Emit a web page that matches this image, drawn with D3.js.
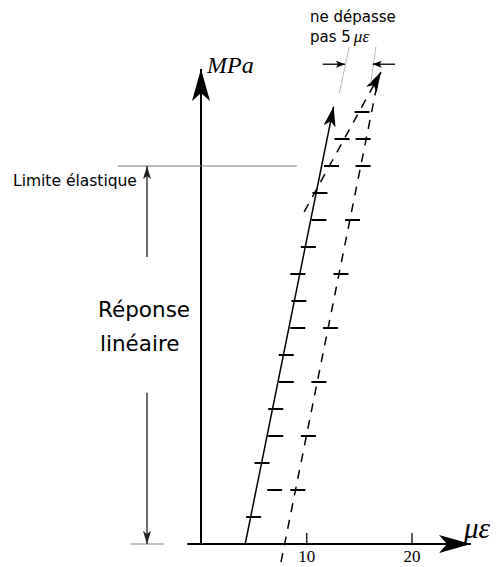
<!DOCTYPE html>
<html>
<head>
<meta charset="utf-8">
<script src="https://cdn.jsdelivr.net/npm/d3@7"></script>
<style>
  body { margin: 0; background: #fff; }
  svg { display: block; }
</style>
</head>
<body>
<script>
// valeurs : deformation (µε) par palier de charge
var paliersA = [1, 2, 3, 4, 5, 6, 7, 8, 9, 10, 11, 12, 13, 14, 15, 16];
var serieA = [5.0, 7.0, 5.8, 7.1, 7.1, 8.1, 8.1, 9.2, 9.3, 9.2, 10.2, 11.2, 11.3, 12.4, 13.4, 15.3];
var paliersB = [2, 4, 6, 8, 10, 12, 14, 15];
var serieB = [9.2, 10.2, 11.2, 12.3, 13.3, 14.4, 15.4, 15.4];

// droites de tendance [µε, palier]
var droiteA = [[4.2, 0], [12.6, 16.2]];
var droiteB = [[7.6, -0.67], [16.7, 16.95]];
var droiteC = [[9.8, 12.3], [17.1, 17.48]];

var xTicks = [10, 20];
var limiteElastique = 14;

// cote "ne depasse pas 5 µε"
var rappels = [[[14.09, 18.42], [13.14, 16.69]], [[16.63, 18.42], [16.12, 17.06]]];
var cotes = [[[11.56, 17.77], [13.68, 17.77]], [[18.43, 17.77], [16.31, 17.77]]];

var width = 496, height = 567;

var x = d3.scaleLinear().domain([0, 20]).range([201, 411.5]);
var y = d3.scaleLinear().domain([0, 16]).range([544, 112]);

var svg = d3.select("body").append("svg")
  .attr("width", width)
  .attr("height", height);

var defs = svg.append("defs");
function fleche(id, len, wid, notch, color) {
  defs.append("marker")
    .attr("id", id)
    .attr("markerUnits", "userSpaceOnUse")
    .attr("viewBox", [-len, -wid / 2, len, wid].join(" "))
    .attr("markerWidth", len)
    .attr("markerHeight", wid)
    .attr("refX", 0).attr("refY", 0)
    .attr("orient", "auto")
    .append("path")
    .attr("d", "M0,0L" + (-len) + "," + (-wid / 2) + "L" + (-len + notch) + ",0L" + (-len) + "," + (wid / 2) + "Z")
    .attr("fill", color);
}
fleche("grande", 32, 18, 8, "#000");
fleche("moyenne", 20, 12, 5, "#000");
fleche("petite", 13, 8, 3, "#222");
fleche("mini", 9, 7, 2, "#000");

var line = d3.line()
  .x(function (d) { return x(d[0]); })
  .y(function (d) { return y(d[1]); });

// axes
svg.append("path")
  .datum([[-1.3, 0], [25.65, 0]])
  .attr("d", line)
  .attr("stroke", "#000").attr("stroke-width", 2).attr("fill", "none")
  .attr("marker-end", "url(#grande)");

svg.append("path")
  .datum([[0, 0], [0, 17.59]])
  .attr("d", line)
  .attr("stroke", "#000").attr("stroke-width", 2).attr("fill", "none")
  .attr("marker-end", "url(#grande)");

var xAxis = svg.append("g")
  .attr("transform", "translate(0," + y(0) + ")")
  .call(d3.axisBottom(x).tickValues(xTicks).tickSizeInner(-11).tickSizeOuter(0).tickPadding(6));
xAxis.select(".domain").remove();
xAxis.selectAll("line").attr("stroke", "#000").attr("stroke-width", 1.3);
xAxis.selectAll("text")
  .attr("fill", "#000")
  .style("font-family", "'Liberation Serif', serif")
  .style("font-size", "17px");

svg.append("text")
  .attr("x", x(0) + 6).attr("y", y(17.46))
  .style("font-family", "'Liberation Serif', serif")
  .style("font-style", "italic")
  .style("font-size", "24px")
  .text("MPa");

svg.append("text")
  .attr("x", x(25.65) - 7).attr("y", y(0) - 6)
  .style("font-family", "'Liberation Serif', serif")
  .style("font-style", "italic")
  .style("font-size", "29px")
  .text("με");

// limite elastique
svg.append("path")
  .datum([[-7.9, limiteElastique], [9.1, limiteElastique]])
  .attr("d", line)
  .attr("stroke", "#777").attr("stroke-width", 1.2).attr("fill", "none");

svg.append("path")
  .datum([[-6.68, 0], [-3.52, 0]])
  .attr("d", line)
  .attr("stroke", "#888").attr("stroke-width", 1.2).attr("fill", "none");

svg.append("path")
  .datum([[-5.13, 10.63], [-5.13, limiteElastique]])
  .attr("d", line)
  .attr("stroke", "#222").attr("stroke-width", 1.3).attr("fill", "none")
  .attr("marker-end", "url(#petite)");

svg.append("path")
  .datum([[-5.13, 5.6], [-5.13, 0]])
  .attr("d", line)
  .attr("stroke", "#222").attr("stroke-width", 1.3).attr("fill", "none")
  .attr("marker-end", "url(#petite)");

svg.append("text")
  .attr("x", 13).attr("y", 186)
  .style("font-family", "'DejaVu Sans', sans-serif")
  .style("font-size", "15.5px")
  .text("Limite élastique");

svg.append("text")
  .attr("x", 98).attr("y", 317)
  .style("font-family", "'DejaVu Sans', sans-serif")
  .style("font-size", "21.5px")
  .text("Réponse");

svg.append("text")
  .attr("x", 100).attr("y", 351)
  .style("font-family", "'DejaVu Sans', sans-serif")
  .style("font-size", "21.5px")
  .text("linéaire");

// droites
svg.append("path")
  .datum(droiteA)
  .attr("d", line)
  .attr("stroke", "#000").attr("stroke-width", 1.5).attr("fill", "none")
  .attr("marker-end", "url(#moyenne)");

svg.append("path")
  .datum(droiteB)
  .attr("d", line)
  .attr("stroke", "#000").attr("stroke-width", 1.5).attr("fill", "none")
  .attr("stroke-dasharray", "9,8");

svg.append("path")
  .datum(droiteC)
  .attr("d", line)
  .attr("stroke", "#000").attr("stroke-width", 1.5).attr("fill", "none")
  .attr("stroke-dasharray", "9,8")
  .attr("marker-end", "url(#moyenne)");

// points de mesure (tirets horizontaux)
function tirets(vals, paliers) {
  svg.append("g").selectAll("line")
    .data(vals)
    .enter().append("line")
    .attr("x1", function (d) { return x(d) - 7.5; })
    .attr("x2", function (d) { return x(d) + 7.5; })
    .attr("y1", function (d, i) { return y(paliers[i]); })
    .attr("y2", function (d, i) { return y(paliers[i]); })
    .attr("stroke", "#000")
    .attr("stroke-width", 2);
}
tirets(serieA, paliersA);
tirets(serieB, paliersB);

// cote
svg.selectAll(".rappel")
  .data(rappels)
  .enter().append("path")
  .attr("class", "rappel")
  .attr("d", line)
  .attr("stroke", "#bbb").attr("stroke-width", 1).attr("fill", "none");

svg.selectAll(".cote")
  .data(cotes)
  .enter().append("path")
  .attr("class", "cote")
  .attr("d", line)
  .attr("stroke", "#000").attr("stroke-width", 1.3).attr("fill", "none")
  .attr("marker-end", "url(#mini)");

var note = svg.append("g")
  .style("font-family", "'DejaVu Sans', sans-serif")
  .style("font-size", "15px");
note.append("text").attr("x", 310).attr("y", 21.7).text("ne dépasse");
var l2 = note.append("text").attr("x", 310).attr("y", 41.7);
l2.append("tspan").text("pas 5");
l2.append("tspan")
  .attr("dx", 3)
  .style("font-family", "'Liberation Serif', serif")
  .style("font-style", "italic")
  .style("font-size", "17px")
  .text("με");
</script>
</body>
</html>
